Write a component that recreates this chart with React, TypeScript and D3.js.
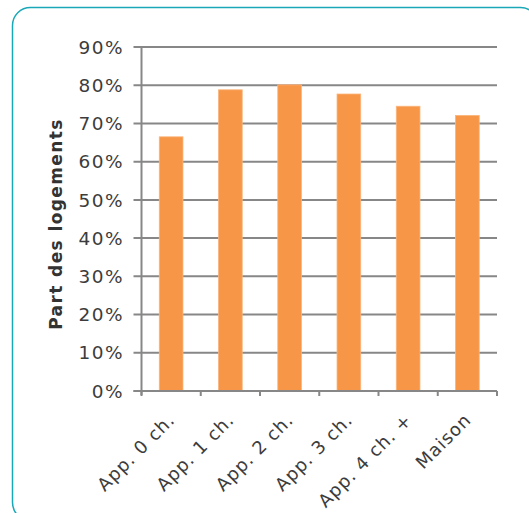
import React from "react";
import * as d3 from "d3";

// Share of dwellings by housing type
const categories = ["App. 0 ch.", "App. 1 ch.", "App. 2 ch.", "App. 3 ch.", "App. 4 ch. +", "Maison"];
const shares = [0.665, 0.788, 0.801, 0.777, 0.745, 0.721];
const yTicks = [0, 0.1, 0.2, 0.3, 0.4, 0.5, 0.6, 0.7, 0.8, 0.9];
const yTitle = "Part des logements";

const W = 529;
const H = 513;
const margin = { left: 141.5, right: 32, top: 47, bottom: 122 };

const FONT = "'DejaVu Sans', Verdana, sans-serif";
const GRID = "#878787";
const TEXT = "#3c3c3c";

export default function App() {
  const x = d3
    .scaleBand<string>()
    .domain(categories)
    .range([margin.left, W - margin.right])
    .paddingInner(0.6)
    .paddingOuter(0.3);
  const y = d3.scaleLinear().domain([0, 0.9]).range([H - margin.bottom, margin.top]);
  const fmt = d3.format(".0%");
  const boundaries = d3
    .range(categories.length + 1)
    .map((i) => margin.left + i * ((W - margin.right - margin.left) / categories.length));
  const bandCenter = (c: string) => (x(c) ?? 0) + x.bandwidth() / 2;

  return (
    <svg
      width={W}
      height={H}
      style={{ position: "absolute", left: 0, top: 0, background: "#fff" }}
      fontFamily={FONT}
    >
      <rect x={12.5} y={7.5} width={526} height={513} rx={18} ry={18} fill="#fff" stroke="#1aa8b8" strokeWidth={1.5} />

      {/* gridlines and y tick labels */}
      {yTicks.map((t) => (
        <g key={t}>
          <line x1={margin.left - 8} x2={W - margin.right} y1={y(t)} y2={y(t)} stroke={GRID} strokeWidth={2} />
          <text x={124} y={y(t)} dy="0.36em" textAnchor="end" fontSize={18.5} letterSpacing={1.5} fill={TEXT}>
            {fmt(t)}
          </text>
        </g>
      ))}

      {/* bars */}
      {categories.map((c, i) => (
        <rect
          key={c}
          x={x(c)}
          y={y(shares[i])}
          width={x.bandwidth()}
          height={y(0) - y(shares[i])}
          fill="#f79646"
          stroke="#fbb57c"
          strokeWidth={0.8}
        />
      ))}

      {/* axes */}
      <line x1={margin.left} x2={margin.left} y1={y(0.9)} y2={y(0) + 4} stroke={GRID} strokeWidth={2} />
      <line x1={margin.left - 8} x2={W - margin.right} y1={y(0)} y2={y(0)} stroke={GRID} strokeWidth={2} />
      {boundaries.map((b, i) => (
        <line key={i} x1={b} x2={b} y1={y(0)} y2={y(0) + 5} stroke={GRID} strokeWidth={2} />
      ))}

      {/* category labels */}
      {categories.map((c) => (
        <text
          key={c}
          transform={`translate(${bandCenter(c) + 5},${y(0) + 30}) rotate(-45)`}
          textAnchor="end"
          fontSize={18}
          letterSpacing={1}
          fill={TEXT}
        >
          {c}
        </text>
      ))}

      {/* y axis title */}
      <text
        transform={`translate(62,224) rotate(-90)`}
        textAnchor="middle"
        fontSize={17}
        fontWeight="bold"
        letterSpacing={1.4}
        fill="#333"
      >
        {yTitle}
      </text>
    </svg>
  );
}
